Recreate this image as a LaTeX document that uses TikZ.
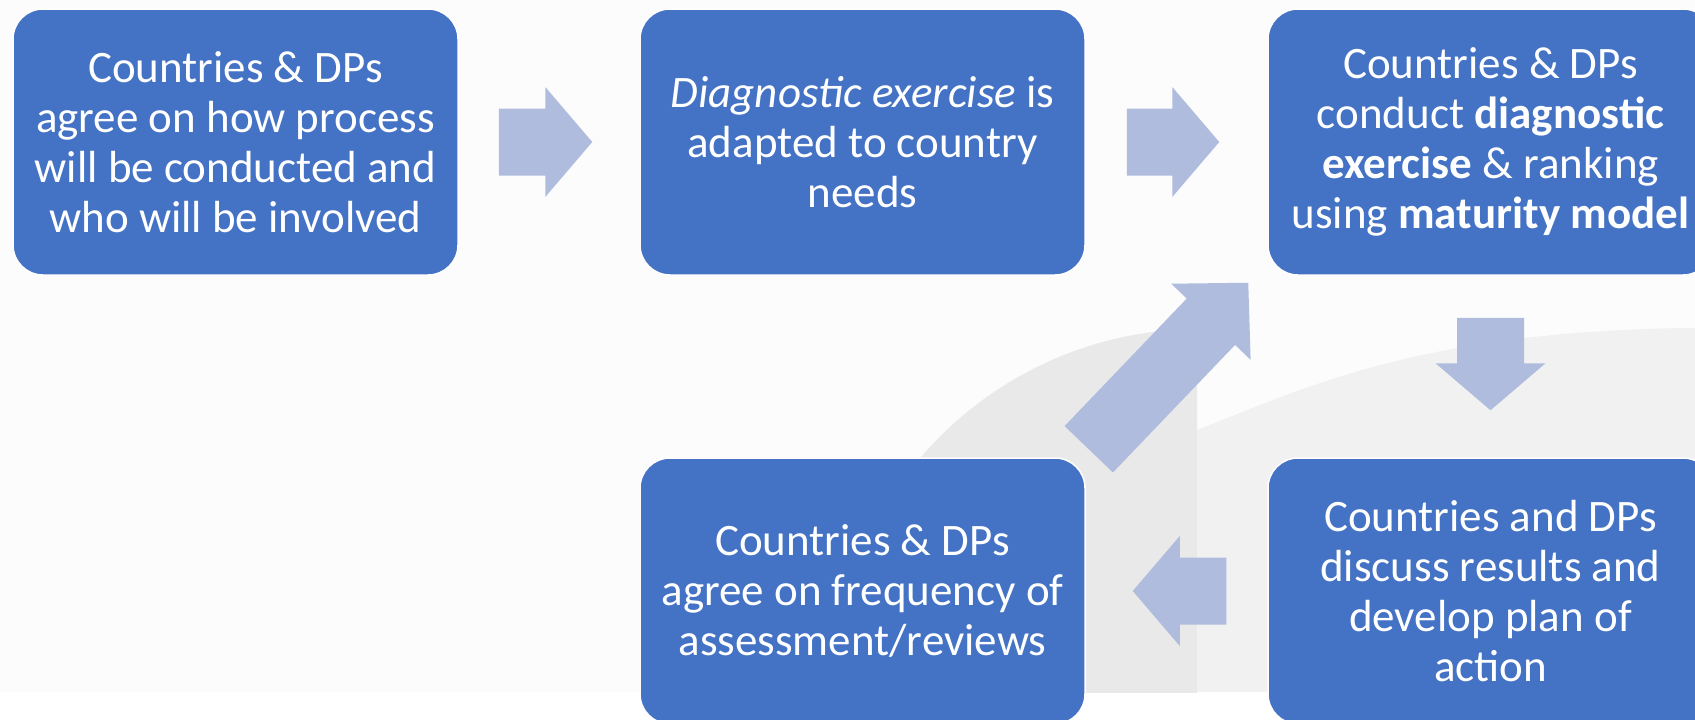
\documentclass[tikz,border=0pt]{standalone}
\usepackage{fontspec}
\setmainfont{Carlito}
\usetikzlibrary{calc}
\definecolor{boxblue}{HTML}{4472C4}
\definecolor{arrowfill}{HTML}{B0BCDE}
\definecolor{wmgray}{HTML}{E8E9E8}
\definecolor{wmlight}{HTML}{F1F1F1}
\definecolor{bgoff}{HTML}{FCFCFC}
% #1 head length, #2 tail coordinate, #3 tip coordinate
\newcommand\blockarrow[3][47pt]{%
  \coordinate (#2h) at ($(#3)!#1!(#2)$);
  \fill[arrowfill] ($(#2)!33.5pt!90:(#3)$) -- ($(#2h)!33.5pt!90:(#3)$) -- ($(#2h)!55pt!90:(#3)$) -- (#3)
    -- ($(#2h)!55pt!-90:(#3)$) -- ($(#2h)!33.5pt!-90:(#3)$) -- ($(#2)!33.5pt!-90:(#3)$) -- cycle;}
\tikzset{
  stepbox/.style={fill=boxblue, draw=white, line width=1.5pt, rounded corners=30pt,
    minimum width=445pt, minimum height=266pt, inner sep=0pt, text=white, align=center,
    font=\fontsize{45}{50}\selectfont}
}
\begin{document}
\begin{tikzpicture}[x=1pt,y=-1pt]
\useasboundingbox (0,0) rectangle (1695,720);
\begin{scope}
\clip (0,0) rectangle (1695,720);
\fill[white] (0,0) rectangle (1695,720);
\fill[bgoff] (0,0) rectangle (1695,692);
% watermark
\begin{scope}
  \clip (0,0) rectangle (1695,692);
  \begin{scope}
    \clip (0,0) rectangle (1197,720);
    \fill[wmgray] (1200,697) circle[radius=368];
  \end{scope}
  \fill[wmlight] (1197,692) -- (1197,430) .. controls (1300,390) and (1420,330) .. (1695,328) -- (1695,692) -- cycle;
\end{scope}
% boxes
\node[stepbox] (b1) at (235.5,142) {Countries \& DPs\\agree on how process\\will be conducted and\\who will be involved};
\node[stepbox] (b2) at (862.5,142) {\textit{Diagnostic exercise} is\\adapted to country\\needs};
\node[stepbox] (b3) at (1490.5,142) {Countries \& DPs\\conduct \textbf{diagnostic}\\\textbf{exercise} \& ranking\\using \textbf{maturity model}};
\node[stepbox] (b4) at (862.5,591) {Countries \& DPs\\agree on frequency of\\assessment/reviews};
\node[stepbox] (b5) at (1490.5,591) {Countries and DPs\\discuss results and\\develop plan of\\action};
% arrows
\coordinate (s1) at ($(b1.east)+(40,0)$);
\coordinate (e1) at ($(b2.west)+(-47,0)$);
\coordinate (s2) at ($(b2.east)+(41,0)$);
\coordinate (e2) at ($(b3.west)+(-48,0)$);
\coordinate (s3) at ($(b3.south)+(0,42)$);
\coordinate (e3) at ($(b5.north)+(0,-47)$);
\coordinate (s4) at ($(b5.west)+(-41,0)$);
\coordinate (e4) at ($(b4.east)+(47,0)$);
\coordinate (s5) at ($(b4.north east)+(3,-8)$);
\coordinate (e5) at ($(b3.south west)+(-19,7)$);
\blockarrow{s1}{e1}
\blockarrow{s2}{e2}
\blockarrow{s3}{e3}
\blockarrow{s4}{e4}
\blockarrow[54pt]{s5}{e5}
\end{scope}
\end{tikzpicture}
\end{document}
